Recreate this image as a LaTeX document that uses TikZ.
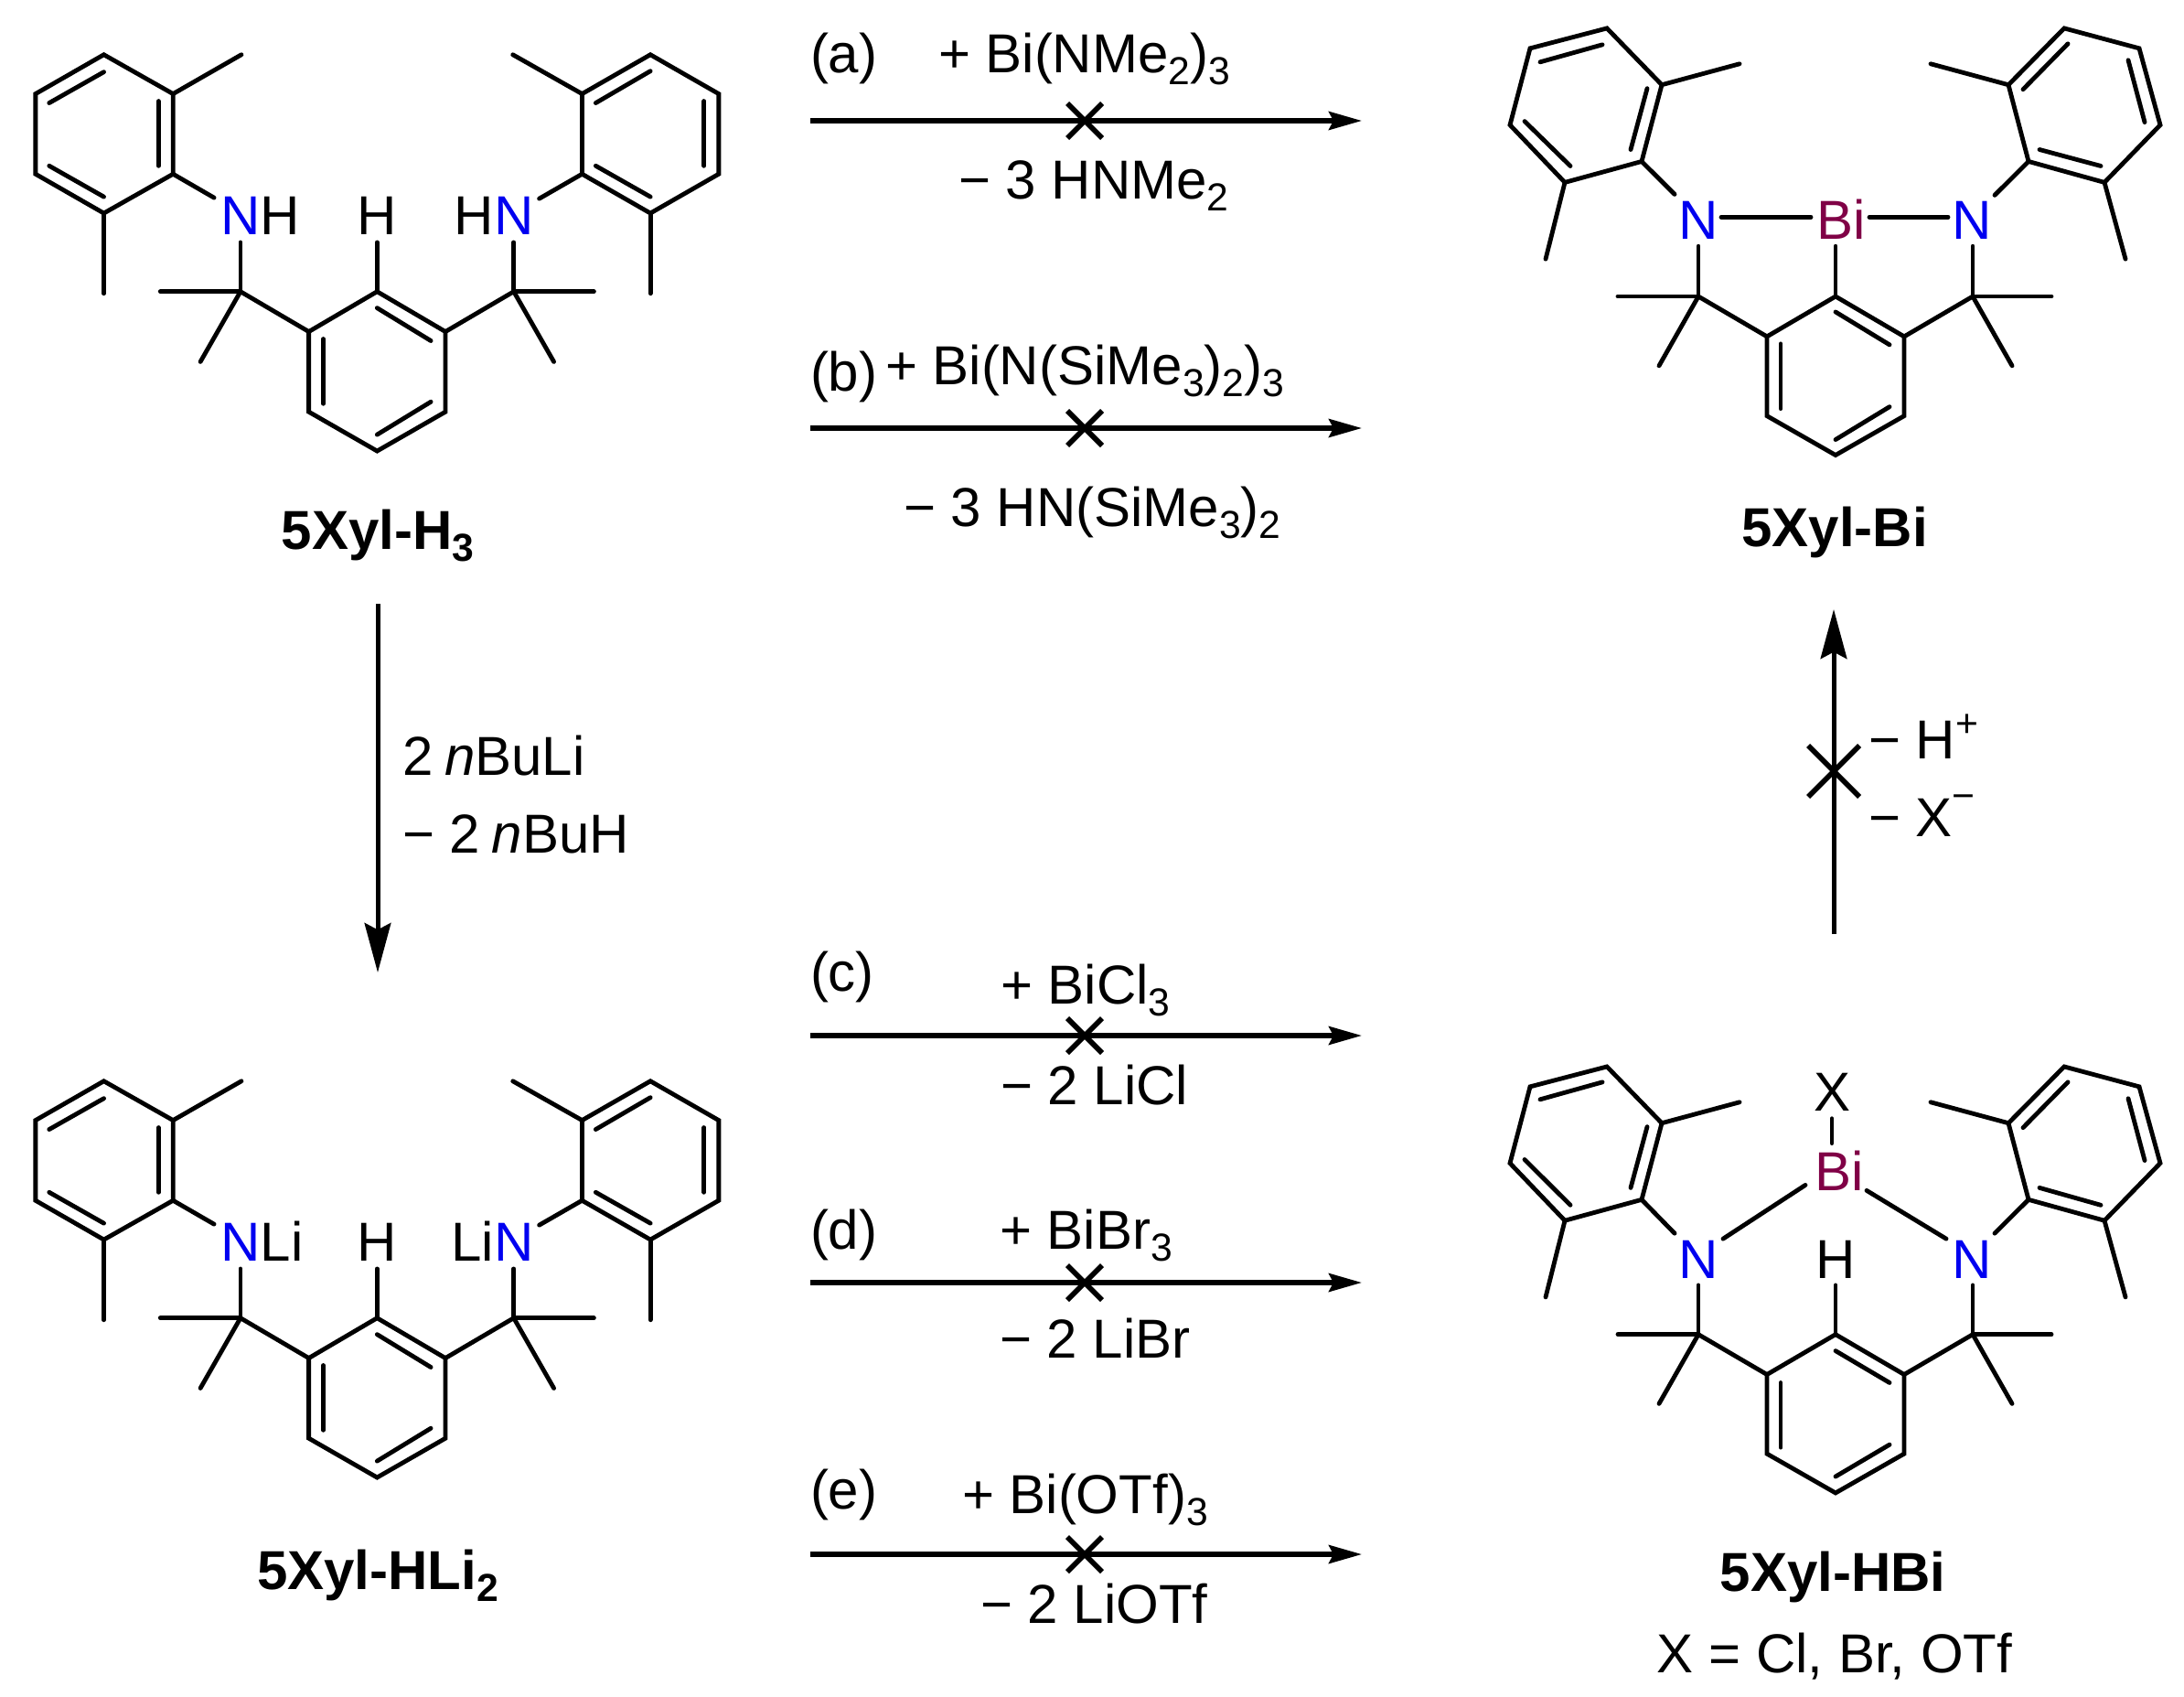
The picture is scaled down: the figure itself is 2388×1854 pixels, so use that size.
\documentclass[tikz,border=0pt]{standalone}
\usepackage{fontspec}
\setmainfont{Liberation Sans}
\usetikzlibrary{arrows.meta}
\definecolor{nblue}{RGB}{0,0,240}
\definecolor{bimaroon}{RGB}{128,0,70}
\newcommand{\chemsub}[1]{\raisebox{-0.23em}{\fontsize{12.8}{14}\selectfont #1}}
\newcommand{\chemsup}[2]{\raisebox{#1em}{\fontsize{12.8}{14}\selectfont #2}}
\newcommand{\ptlist}[2]{\foreach \n/\x/\y in {#2} {\coordinate (#1\n) at (\x,\y);}}
\newcommand{\skeleton}[1]{%
  \draw[bond] (#1l1)--(#1l2)--(#1l3)--(#1l4)--(#1l5)--(#1l6)--cycle;
  \draw[bond] (#1r1)--(#1r2)--(#1r3)--(#1r4)--(#1r5)--(#1r6)--cycle;
  \draw[bond] (#1c1)--(#1c2)--(#1c3)--(#1c4)--(#1c5)--(#1c6)--cycle;
  \foreach \a/\b in {l2/lm1,l4/lm2,l3/lk,r2/rm1,r4/rm2,r3/rk,c6/cl,c2/cr,cl/cla,cl/clb,cl/nlb,cr/cra,cr/crb,cr/nrb,c1/hb,la/lb,lc/ld,le/lf,ra/rb,rc/rd,re/rf,ca/cb,cc/cd,ce/cf}
    {\draw[bond] (#1\a)--(#1\b);}
}
\newcommand{\molH}[4]{%
  \begin{scope}[shift={(0,#2)},xscale=.996,yscale=.996]
  \ptlist{#1}{l1/114/60,l2/190/103,l3/190/191,l4/114/234,l5/39/191,l6/39/103,
    lm1/265/60,lm2/114/322,lk/235/217,
    la/54/113,lb/114/79,lc/174/111,ld/174/182,le/54/182,lf/114/216,
    r1/714/60,r2/639/103,r3/639/191,r4/714/234,r5/789/191,r6/789/103,
    rm1/563/60,rm2/714/322,rk/592/218,
    ra/654/113,rb/714/78,rc/773/111,rd/773/182,re/654/182,rf/714/216,
    c1/414/320,c2/489/364,c3/489/452,c4/414/495,c5/339/452,c6/339/364,
    ca/414/338,cb/473/374,cc/473/441,cd/414/477,ce/355/443,cf/355/372,
    cl/264/320,cla/176/320,clb/220/397,nlb/264/266,
    cr/564/320,cra/652/320,crb/608/397,nrb/564/266,hb/414/266}
  \skeleton{#1}
  \node[txt,anchor=base west] (#1nl) at (242.3,258) {\textcolor{nblue}{N}#3};
  \node[txt,anchor=base east] (#1nr) at (585.7,258) {#4\textcolor{nblue}{N}};
  \node[txt,anchor=base] (#1h) at (414,258) {H};
  \end{scope}
}
\tikzset{
  bond/.style={line width=1.45pt,line cap=round,line join=miter},
  txt/.style={inner sep=0pt,outer sep=0pt,font=\fontsize{18}{20}\selectfont},
  boldtxt/.style={inner sep=0pt,outer sep=0pt,anchor=base,font=\fontsize{18}{20}\selectfont\bfseries},
  rxn/.style={line width=1.6pt,-{Stealth[length=10.8pt,width=6pt,inset=1.5pt]}},
  bigrxn/.style={line width=1.5pt,-{Stealth[length=16.2pt,width=8.6pt,inset=2.2pt]}},
  crossline/.style={line width=1.7pt}
}
\newcommand{\rxnarrow}[2]{%
  \coordinate (#1s) at (886,#2);
  \coordinate (#1e) at (1489,#2);
  \coordinate (#1xa) at (1167,#2-19);
  \coordinate (#1xb) at (1205,#2+19);
  \coordinate (#1xc) at (1167,#2+19);
  \coordinate (#1xd) at (1205,#2-19);
  \draw[rxn] (#1s)--(#1e);
  \draw[crossline] (#1xa)--(#1xb);
  \draw[crossline] (#1xc)--(#1xd);
}
\begin{document}
\begin{tikzpicture}[x=0.3pt,y=-0.3pt]
\useasboundingbox (0,0) rectangle (2388,1854);
\fill[white] (0,0) rectangle (2388,1854);

% 5Xyl-H3 and 5Xyl-HLi2
\molH{h}{0}{H}{H}
\node[boldtxt] (lblh) at (413,600) {5Xyl-H\chemsub{3}};
\molH{i}{1122}{Li}{Li}
\node[boldtxt] (lbli) at (413,1737) {5Xyl-HLi\chemsub{2}};

% 5Xyl-Bi
\begin{scope}[shift={(-1,0)},yscale=.997]
\ptlist{b}{l1/1758/31,l2/1818/93,l3/1796/177,l4/1712/200,l5/1652/137,l6/1674/53,
  lm1/1903/70,lm2/1691/284,lk/1832/213,
  la/1685/68,lb/1753/49,lc/1802/97,ld/1784/164,le/1668/133,lf/1718/182,
  r1/2258/31,r2/2197/93,r3/2219/177,r4/2302/200,r5/2363/137,r6/2340/53,
  rm1/2112/70,rm2/2325/284,rk/2182/214,
  ra/2262/48,rb/2213/98,rc/2328/66,rd/2346/134,re/2231/164,rf/2298/182,
  c1/2008/325,c2/2083/369,c3/2083/456,c4/2008/499,c5/1933/456,c6/1933/369,
  ca/2008/342,cb/2067/378,cc/2067/446,cd/2008/482,ce/1948/448,cf/1948/377,
  cl/1858/325,cla/1770/325,clb/1815/401,nlb/1858/270,
  cr/2158/325,cra/2244/325,crb/2201/401,nrb/2158/270,hb/2008/270,
  bo1/1883/238,bo2/1981/238,bo3/2045/238,bo4/2131/238}
\skeleton{b}
\draw[bond] (bbo1)--(bbo2);
\draw[bond] (bbo3)--(bbo4);
\node[txt,anchor=base,text=nblue] (bnl) at (1858,262) {N};
\node[txt,anchor=base,text=nblue] (bnr) at (2157,262) {N};
\node[txt,anchor=base,text=bimaroon] (bbi) at (2014,262) {Bi};
\end{scope}
\node[boldtxt] (lblb) at (2006,597) {5Xyl-Bi};

% 5Xyl-HBi
\begin{scope}[shift={(-1,5)},yscale=.9957]
\ptlist{d}{l1/1758/1166,l2/1818/1228,l3/1796/1312,l4/1712/1335,l5/1652/1272,l6/1674/1188,
  lm1/1903/1205,lm2/1691/1419,lk/1832/1349,
  la/1685/1202,lb/1753/1183,lc/1802/1232,ld/1784/1299,le/1668/1268,lf/1718/1318,
  r1/2258/1166,r2/2197/1228,r3/2219/1312,r4/2302/1335,r5/2363/1272,r6/2340/1188,
  rm1/2112/1205,rm2/2325/1419,rk/2182/1349,
  ra/2262/1183,rb/2213/1233,rc/2328/1201,rd/2346/1269,re/2231/1299,rf/2298/1318,
  c1/2008/1460,c2/2083/1504,c3/2083/1591,c4/2008/1634,c5/1933/1591,c6/1933/1504,
  ca/2008/1478,cb/2067/1513,cc/2067/1581,cd/2008/1616,ce/1948/1584,cf/1948/1513,
  cl/1858/1460,cla/1770/1460,clb/1815/1536,nlb/1858/1406,
  cr/2158/1460,cra/2244/1460,crb/2201/1536,nrb/2158/1406,hb/2008/1406,
  bo1/1885/1355,bo2/1975/1296,bo3/2042/1302,bo4/2129/1355,bo5/2004/1223,bo6/2004/1250}
\skeleton{d}
\draw[bond] (dbo1)--(dbo2);
\draw[bond] (dbo3)--(dbo4);
\draw[bond] (dbo5)--(dbo6);
\node[txt,anchor=base,text=nblue] (dnl) at (1858,1398) {N};
\node[txt,anchor=base,text=nblue] (dnr) at (2157,1398) {N};
\node[txt,anchor=base] (dh) at (2008,1398) {H};
\node[txt,anchor=base,text=bimaroon] (dbi) at (2012,1302) {Bi};
\node[txt,anchor=base] (dx) at (2004,1215) {X};
\end{scope}
\node[boldtxt] (lbld) at (2004,1739) {5Xyl-HBi};
\node[txt,anchor=base] (lbldx) at (2006,1828) {X = Cl, Br, OTf};

% horizontal blocked reactions
\rxnarrow{ra}{132}
\rxnarrow{rb}{468}
\rxnarrow{rc}{1132}
\rxnarrow{rd}{1402}
\rxnarrow{re}{1699}
\node[txt,anchor=base west] (ta) at (886,79) {(a)};
\node[txt,anchor=base west] (ta1) at (1026,79) {+ Bi(NMe\chemsub{2})\chemsub{3}};
\node[txt,anchor=base west] (ta2) at (1048,217) {− 3 HNMe\chemsub{2}};
\node[txt,anchor=base west] (tb) at (886,427) {(b)};
\node[txt,anchor=base west] (tb1) at (968,420) {+ Bi(N(SiMe\chemsub{3})\chemsub{2})\chemsub{3}};
\node[txt,anchor=base west] (tb2) at (988,575) {− 3 HN(SiMe\chemsub{3})\chemsub{2}};
\node[txt,anchor=base west] (tc) at (886,1083) {(c)};
\node[txt,anchor=base west] (tc1) at (1094,1097) {+ BiCl\chemsub{3}};
\node[txt,anchor=base west] (tc2) at (1094,1207) {− 2 LiCl};
\node[txt,anchor=base west] (td) at (886,1365) {(d)};
\node[txt,anchor=base west] (td1) at (1093,1365) {+ BiBr\chemsub{3}};
\node[txt,anchor=base west] (td2) at (1093,1484) {− 2 LiBr};
\node[txt,anchor=base west] (te) at (886,1649) {(e)};
\node[txt,anchor=base west] (te1) at (1052,1654) {+ Bi(OTf)\chemsub{3}};
\node[txt,anchor=base west] (te2) at (1072,1774) {− 2 LiOTf};

% lithiation arrow
\coordinate (lis) at (413,660);
\coordinate (lie) at (413,1063);
\draw[bigrxn] (lis)--(lie);
\node[txt,anchor=base west] (li1) at (440,847) {2\hspace{3.8pt}\textit{n}BuLi};
\node[txt,anchor=base west] (li2) at (440,932) {− 2\hspace{3.8pt}\textit{n}BuH};

% elimination arrow
\coordinate (els) at (2005,1021);
\coordinate (ele) at (2005,666);
\coordinate (elxa) at (1977,815);
\coordinate (elxb) at (2033,871);
\coordinate (elxc) at (1977,871);
\coordinate (elxd) at (2033,815);
\draw[bigrxn] (els)--(ele);
\draw[crossline] (elxa)--(elxb);
\draw[crossline] (elxc)--(elxd);
\node[txt,anchor=base west] (el1) at (2043,829) {− H\chemsup{0.4}{+}};
\node[txt,anchor=base west] (el2) at (2043,914) {− X\chemsup{0.5}{−}};
\end{tikzpicture}
\end{document}
